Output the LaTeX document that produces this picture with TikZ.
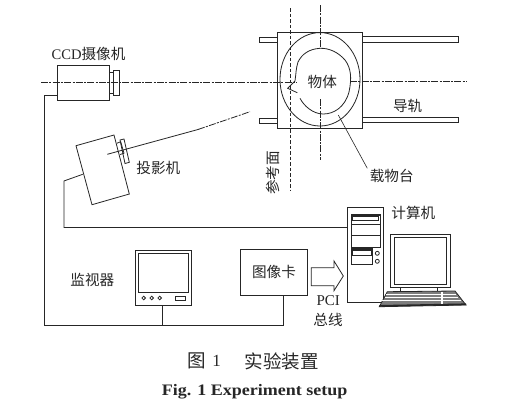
\documentclass[tikz,border=0pt]{standalone}
\usepackage{fontspec}
\setmainfont{Liberation Serif}
\newfontfamily\cjk{Noto Sans CJK SC}
\usetikzlibrary{calc}
\definecolor{ink}{gray}{0.15}
\tikzset{
  lbl/.style={text=ink,inner sep=0pt,font=\fontsize{14.6}{14.6}\selectfont\cjk},
  wire/.style={draw=ink,line width=0.8pt},
  thinline/.style={draw=ink,line width=0.6pt},
  axisline/.style={draw=ink,line width=0.8pt,dash pattern=on 7pt off 1.3pt on 2pt off 1.3pt},
  refline/.style={draw=ink,line width=1.2pt,dash pattern=on 3.5pt off 2pt},
}
\newcommand{\rectnode}[5]{\node[draw=ink,line width=0.8pt,inner sep=0pt,outer sep=0pt,minimum width=#4pt-#2pt,minimum height=#5pt-#3pt,anchor=north west] (#1) at (#2,#3) {};}
\begin{document}
\begin{tikzpicture}[x=1pt,y=-1pt]
\useasboundingbox (0,0) rectangle (505,416);
\fill[white] (0,0) rectangle (505,416);

% rails
\draw[wire] (277.7,37.3) -- (259.3,37.3) -- (259.3,42.7) -- (277.7,42.7);
\draw[wire] (362.3,36.3) -- (458.3,36.3) -- (458.3,42) -- (362.3,42);
\draw[wire] (277.7,118.3) -- (259.3,118.3) -- (259.3,123.7) -- (277.7,123.7);
\draw[wire] (362.3,117.3) -- (458.3,117.3) -- (458.3,122.7) -- (362.3,122.7);
% stage
\rectnode{stage}{277.7}{32.3}{362.3}{128}
\draw[wire] (320,79.3) ellipse [x radius=40,y radius=46.7];
% object
\draw[wire] (300,98.3) .. controls (304,106) and (313,114) .. (323.3,114)
  .. controls (334,114) and (345,107) .. (349,92)
  .. controls (352,78) and (351,68) .. (345,60)
  .. controls (338,52) and (329,48) .. (320,48.3)
  .. controls (309,49) and (302,54) .. (298,62)
  .. controls (296,68) and (296,74) .. (295,81)
  -- (287.7,88.3) -- (297.3,92.7);
% axes
\coordinate (axL) at (41,82);
\coordinate (axM1) at (297,82);
\coordinate (axM2) at (350,81);
\coordinate (axR) at (467,81);
\path[axisline] (axL) -- (axM1);
\path[axisline] (axM2) -- (axR);
\coordinate (vT) at (320,5);
\coordinate (vM1) at (320,48);
\coordinate (vM2) at (320,99);
\coordinate (vB) at (320,160);
\path[axisline] (vT) -- (vM1);
\path[axisline] (vM2) -- (vB);
\coordinate (rT) at (290.7,8);
\coordinate (rB) at (290.7,190);
\path[refline] (rT) -- (rB);
% leader
\coordinate (leadA) at (338.3,115);
\coordinate (leadB) at (367.3,168.3);
\path[thinline] (leadA) -- (leadB);
% camera
\rectnode{cam}{57.3}{65.7}{109.3}{100}
\rectnode{lensa}{109.3}{72}{113.3}{93}
\rectnode{lensb}{113.3}{70.7}{119}{95}
% projector
\draw[wire] (76,145.7) coordinate (pA) -- (114,135) -- (129.3,194) -- (92,204.7) coordinate (pD) -- cycle;
\draw[wire] (116.7,143.3) -- (120.7,141.7) -- (124,153.3) -- (120,154.5);
\draw[wire] (120,140) -- (124,139) -- (129.3,162.3) -- (125,163.5) -- cycle;
\coordinate (pbL) at (107.3,154.3);
\coordinate (pbR) at (250,111.7);
\draw[draw=ink,line width=0.8pt] (pbL) -- (198,129.5);
\path[axisline] (198,129.5) -- (pbR);
% wires
\coordinate (pPort) at (82.7,174.3);
\coordinate (camPort) at (57.3,95);
% monitor
\rectnode{mon}{135.7}{250}{191.3}{305.3}
\rectnode{monscr}{138.7}{253.3}{188.7}{292.3}
\foreach \x in {143.7,151.7,159.7} \draw[wire] (\x,298) circle [radius=1.8];
\rectnode{monbtn}{175.7}{296}{185.7}{300}
% card
\rectnode{card}{240.3}{249}{307.7}{295}
% tower
\rectnode{tower}{347}{207.7}{383.7}{302}
\rectnode{drive}{351.3}{214}{380}{247.3}
\rectnode{driveb}{352.7}{216}{378.3}{220.7}
\draw[thinline] (351.3,224.3) -- (380,224.3);
\draw[thinline] (351.3,235.7) -- (380,235.7);
\fill[ink] (351.3,214) rectangle (380,216);
\rectnode{flop}{351.3}{248.3}{372.7}{264}
\fill[ink] (351.3,248.3) rectangle (372.7,250);
\rectnode{flopb}{352.5}{250}{371.5}{255}
\draw[wire] (377.3,253.3) circle [radius=2];
\draw[wire] (377.3,261.3) circle [radius=2];
% screen
\rectnode{scr}{390}{234}{450.7}{287.7}
\rectnode{scrin}{394}{237.7}{446.7}{284.3}
\draw[wire] (400,287.7) -- (400,291.5);
\draw[wire] (437.3,287.7) -- (437.3,291.3);
% keyboard
\fill[ink!60] (387.3,291.7) -- (455,291) -- (466,305) -- (379.3,306.7) -- cycle;
\draw[wire] (387.3,291.7) -- (455,291) -- (466,305) -- (379.3,306.7) -- cycle;
\draw[line width=1.6pt,draw=ink] (379.3,305.8) -- (466,304.2);
\foreach \y/\a/\b in {294.5/386/455.5,297.5/384.5/458,300.5/382/460.5}
  \draw[draw=white,line width=0.9pt] (\a,\y) -- (\b,\y);
\draw[line width=1.6pt,draw=white] (442,291.5) -- (442,304);
% arrow
\draw[wire] (311.3,267.7) -- (334,267.7) -- (334,261) -- (343.3,276) -- (334,290.7) -- (334,285.7) -- (311.3,285.7) -- cycle;
% connectors
\draw[wire] (camPort) -- ++(-12.6,0) |- (283.3,325) coordinate (busEnd) -- (card.south -| busEnd);
\draw[wire] (pPort) -- (63.9,181) -- (63.9,227.5) -- (tower.west |- 0,227.5);
\draw[wire] (mon.south -| 162,0) -- (162,325);
% labels
\node[lbl] (tCam) at (88.5,54.3) {\textrm{CCD}摄像机};
\node[lbl] (tProj) at (158.3,168.3) {投影机};
\node[lbl] (tMon) at (92.3,280) {监视器};
\node[lbl] (tCard) at (274,272) {图像卡};
\node[lbl] (tPC) at (413.3,213.3) {计算机};
\node[lbl] (tObj) at (322.3,81.7) {物体};
\node[lbl] (tRail) at (407.7,106) {导轨};
\node[lbl] (tStage) at (391.7,175.7) {载物台};
\node[lbl,rotate=90] (tRef) at (273.3,173) {参考面};
\node[lbl,font=\fontsize{15}{15}\selectfont] (tPCI) at (328.3,301) {PCI};
\node[lbl] (tBus) at (328,320) {总线};
\node[lbl,font=\fontsize{18.5}{18.5}\selectfont\cjk] (tCap1) at (196.7,361) {图};
\node[lbl,font=\fontsize{17}{17}\selectfont] (tCap2) at (216.7,361) {1};
\node[lbl,font=\fontsize{18.5}{18.5}\selectfont\cjk] (tCap3) at (281.7,361) {实验装置};
\node[lbl,font=\fontsize{16}{16}\selectfont\bfseries,xscale=1.125,transform shape] (tEn) at (254.7,392) {Fig. 1 Experiment setup};
\end{tikzpicture}
\end{document}
